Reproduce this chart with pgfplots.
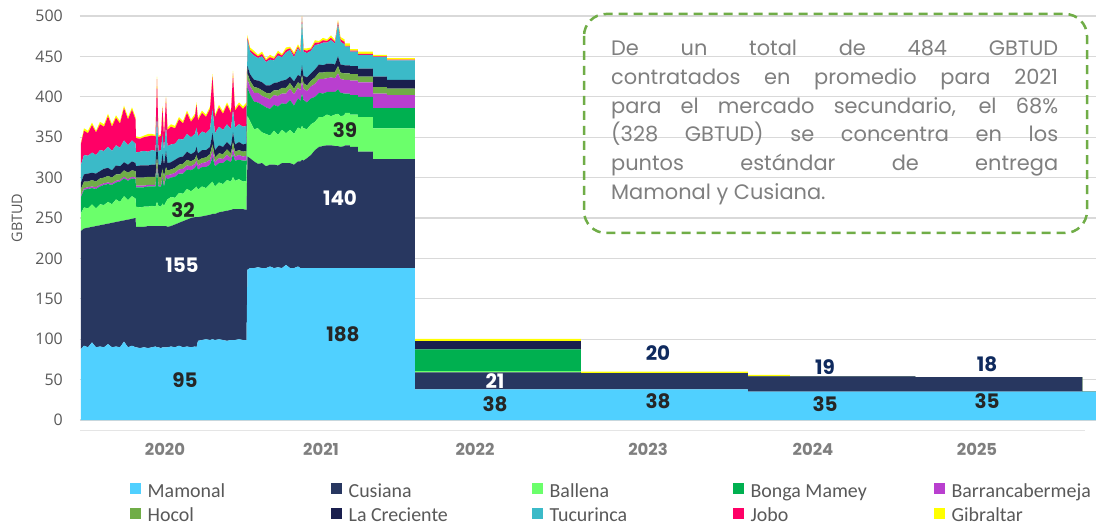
\documentclass[border=0pt]{standalone}
\usepackage{fontspec}
\usepackage{pgfplots}
\usepackage{pgfplotstable}
\pgfplotsset{compat=1.18}
\setmainfont{Poppins}
\newfontfamily\popp{Poppins}
\newfontfamily\opens{Open Sans}
\newfontfamily\carl{Carlito}
\definecolor{cMam}{HTML}{50D0FF}
\definecolor{cCus}{HTML}{283760}
\definecolor{cBal}{HTML}{6BFF6B}
\definecolor{cBon}{HTML}{00B050}
\definecolor{cBar}{HTML}{B93FCF}
\definecolor{cHoc}{HTML}{70AD47}
\definecolor{cLac}{HTML}{1A1F4E}
\definecolor{cTuc}{HTML}{3BBAC8}
\definecolor{cJob}{HTML}{FF0066}
\definecolor{cGib}{HTML}{FFFF00}
\definecolor{tickgray}{HTML}{595959}
\definecolor{xgray}{HTML}{7F7F7F}
\definecolor{boxgreen}{HTML}{70AD47}
\definecolor{lblnavy}{HTML}{0F2A5E}
\definecolor{lbldark}{HTML}{262626}
\pgfplotsset{
  sqlegend/.style={legend image code/.code={\fill[##1] (0bp,-5.5bp) rectangle (11bp,5.5bp);}},
}
\pgfplotstableread{
x mam cus bal bon bar hoc lac tuc job gib
81 88 146 22 20 2 8 8 22 26 2
84 92 145 26 22 2 8 9 24 30 3
88 90 148 24 24 2 7 10 22 28 3
92 96 143 28 20 2 8 9 25 34 3
96 90 150 22 24 2 7 10 23 28 2
100 91 150 26 22 2 8 9 26 32 3
104 90 152 24 25 2 7 11 22 30 3
108 94 149 27 22 2 8 10 26 38 3
112 90 154 23 24 2 7 9 24 30 3
116 91 154 28 21 2 8 11 25 34 3
120 90 156 24 25 2 7 10 23 30 3
124 97 150 30 22 2 8 10 27 40 3
128 90 158 24 24 2 8 10 24 32 3
132 92 157 28 22 2 8 11 26 38 3
135.5 90 160 24 24 2 8 10 24 30 3
136 90 149 25 24 2 10 14 17 18 2
140 89 150 24 25 2 10 15 17 16 2
144 90 149 25 24 2 10 15 18 17 2
148 89 151 24 25 2 10 14 17 19 3
152 90 150 25 24 2 10 15 18 18 2
155.5 91 149 24 25 2 10 15 17 18 2
157 90 150 30 40 5 12 20 30 45 3
158.5 90 150 25 24 2 10 15 17 17 2
161 89 151 24 25 2 10 15 18 18 2
162.5 90 150 28 30 3 10 18 25 32 2
164 90 150 25 24 2 10 15 17 18 2
166 90 150 30 30 3 10 20 30 35 2
167.5 90 149 34 25 5 6 9 21 20 3
171 91 149 36 24 4 6 9 22 22 3
175 90 152 33 26 5 6 10 20 19 3
179 92 152 37 24 5 6 9 23 24 3
183 90 156 34 25 6 6 9 21 20 3
187 91 157 38 24 5 7 10 22 26 3
191 90 160 33 26 5 6 9 21 19 3
195 91 160 36 25 5 6 9 22 22 3
196.5 90 161 38 26 6 7 10 24 28 3
198 98 153 34 25 5 6 9 21 20 3
202 99 153 37 24 5 6 10 23 23 3
206 100 153 34 26 6 6 9 21 20 3
210 99 155 38 24 6 7 9 22 25 3
212.5 100 155 40 30 8 8 14 30 40 3
215 99 156 34 25 5 6 9 21 20 3
219 100 157 37 24 6 6 10 23 24 3
223 99 159 34 26 5 6 9 21 20 3
227 98 161 38 25 6 7 9 22 24 3
231 99 161 35 24 5 6 9 21 20 3
233 99 162 40 28 7 8 12 28 45 3
235 99 162 35 25 5 6 9 21 21 3
239 100 161 37 24 6 6 10 22 24 3
243 99 162 34 26 5 6 9 22 22 3
246.5 99 161 36 25 6 6 9 22 26 3
247.5 186 140 50 35 10 8 9 32 3 3
250 188 136 46 33 10 7 8 28 2 3
254 188 132 40 34 11 7 9 30 3 3
258 189 128 44 32 12 6 9 28 2 2
262 188 130 38 34 11 7 10 32 3 3
266 188 126 40 33 12 6 9 29 2 2
270 190 126 36 33 12 7 10 32 3 3
274 188 128 42 32 12 6 9 28 2 2
278 189 126 38 35 13 7 10 33 3 3
282 188 130 41 33 12 7 9 29 2 2
286 192 126 37 36 13 7 10 34 3 3
290 188 130 41 37 14 7 8 33 2 2
294 188 128 38 35 14 7 9 30 3 3
298 190 130 42 36 13 7 9 33 2 3
300.5 188 132 40 35 13 7 10 30 2 2
302 188 134 42 40 15 8 12 58 2 1
303.5 188 133 40 35 14 7 9 30 2 2
307 188 136 36 33 14 7 10 30 3 3
311 188 140 38 32 15 7 9 28 2 2
315 188 146 35 31 16 8 10 30 3 3
319 188 150 37 30 17 8 10 25 2 2
323 188 151 36 29 18 8 9 28 3 3
327 188 152 38 28 17 8 10 26 2 2
331 188 152 36 30 18 7 10 29 3 3
335 188 151 39 28 17 8 9 26 2 2
338 188 151 40 30 20 9 12 40 3 2
340.5 188 150 38 29 17 8 10 28 3 3
344.5 188 151 38 27 17 8 10 26 3 3
345 188 152 40 24 17 8 10 23 1 3
350 188 152 40 24 17 8 10 23 1 3
350 188 150 40 24 18 8 10 18 1 2
358 188 150 40 24 18 8 10 18 1 2
358 188 144 43 25 18 7 10 17 1 3
373 188 144 43 25 18 7 10 17 1 3
373 188 135 38 25 18 8 13 24 1 2
387 188 135 38 25 18 8 13 24 1 2
387 188 135 38 25 16 8 11 24 1 2
415 188 135 38 25 16 8 11 24 1 2
415 38 21 1.5 27 0 0 10 0 0 3
581 38 21 1.5 27 0 0 10 0 0 3
581 38 20 0 0 0 0 0 0 0 2
748 38 20 0 0 0 0 0 0 0 2
748 35 19 0 0 0 0 0 0 0 2
790 35 19 0 0 0 0 0 0 0 2
790 35 19 0 0 0 0 0 0 0 0
915 35 19 0 0 0 0 0 0 0 0
915 35 18 0 0 0 0 0 0 0 0
1082 35 18 0 0 0 0 0 0 0 0
1082 35 0 0 0 0 0 0 0 0 0
1096 35 0 0 0 0 0 0 0 0 0
}\mydata
\begin{document}
\begin{tikzpicture}
\useasboundingbox (-80bp,-109bp) rectangle (1016bp,420bp);
\fill[white] (-80bp,-109bp) rectangle (1016bp,420bp);
\begin{axis}[
  at={(0,0)}, anchor=south west,
  scale only axis, width=1016bp, height=404bp,
  xmin=80, xmax=1096, ymin=0, ymax=500,
  clip=false,
  stack plots=y,
  axis line style={draw=none},
  major tick length=0pt,
  ytick={0,50,100,150,200,250,300,350,400,450,500},
  yticklabels={0,50,100,150,200,250,300,350,400,450,500},
  xtick={165,321,475,648,813,977},
  xticklabels={2020,2021,2022,2023,2024,2025},
  ymajorgrids,
  grid style={draw=black!15, line width=1.2bp},
  yticklabel style={font=\opens\fontsize{16}{19}\selectfont, text=tickgray, inner sep=0pt, anchor=east, xshift=-17bp},
  xticklabel style={font=\popp\bfseries\fontsize{16.5}{19}\selectfont, text=xgray, inner sep=0pt, anchor=base, yshift=-35bp},
  ylabel={GBTUD},
  ylabel style={font=\opens\fontsize{14.5}{17}\selectfont, text=tickgray},
  every axis y label/.append style={at={(rel axis cs:-0.062,0.5)}, anchor=center},
  legend columns=5,
  sqlegend,
  legend style={at={(0.0492,-0.1399)}, anchor=north west, draw=none, fill=none, inner sep=0pt, row sep=0pt, column sep=0pt, font=\carl\fontsize{20}{27}\selectfont, text=tickgray},
]
\addplot[fill=cMam, draw=none] table[x=x,y=mam]{\mydata} \closedcycle;
\addlegendentry{\makebox[186bp][l]{\hspace{4.5bp}\strut Mamonal}}
\addplot[fill=cCus, draw=none] table[x=x,y=cus]{\mydata} \closedcycle;
\addlegendentry{\makebox[186bp][l]{\hspace{4.5bp}\strut Cusiana}}
\addplot[fill=cBal, draw=none] table[x=x,y=bal]{\mydata} \closedcycle;
\addlegendentry{\makebox[186bp][l]{\hspace{4.5bp}\strut Ballena}}
\addplot[fill=cBon, draw=none] table[x=x,y=bon]{\mydata} \closedcycle;
\addlegendentry{\makebox[186bp][l]{\hspace{4.5bp}\strut Bonga Mamey}}
\addplot[fill=cBar, draw=none] table[x=x,y=bar]{\mydata} \closedcycle;
\addlegendentry{\makebox[186bp][l]{\hspace{4.5bp}\strut Barrancabermeja}}
\addplot[fill=cHoc, draw=none] table[x=x,y=hoc]{\mydata} \closedcycle;
\addlegendentry{\makebox[186bp][l]{\hspace{4.5bp}\strut Hocol}}
\addplot[fill=cLac, draw=none] table[x=x,y=lac]{\mydata} \closedcycle;
\addlegendentry{\makebox[186bp][l]{\hspace{4.5bp}\strut La Creciente}}
\addplot[fill=cTuc, draw=none] table[x=x,y=tuc]{\mydata} \closedcycle;
\addlegendentry{\makebox[186bp][l]{\hspace{4.5bp}\strut Tucurinca}}
\addplot[fill=cJob, draw=none] table[x=x,y=job]{\mydata} \closedcycle;
\addlegendentry{\makebox[186bp][l]{\hspace{4.5bp}\strut Jobo}}
\addplot[fill=cGib, draw=none] table[x=x,y=gib]{\mydata} \closedcycle;
\addlegendentry{\makebox[186bp][l]{\hspace{4.5bp}\strut Gibraltar}}
\end{axis}
\begin{scope}[every node/.style={font=\popp\bfseries\fontsize{20}{24}\selectfont, inner sep=0pt}]
\node[text=lbldark] at (105bp,40bp) {95};
\node[text=white] at (102bp,155bp) {155};
\node[text=lbldark] at (103bp,210bp) {32};
\node[text=lbldark] at (263bp,86bp) {188};
\node[text=white] at (260bp,222bp) {140};
\node[text=lbldark] at (265bp,290bp) {39};
\node[text=white] at (415bp,39bp) {21};
\node[text=lbldark] at (415bp,16bp) {38};
\node[text=lblnavy] at (578bp,67bp) {20};
\node[text=lbldark] at (578bp,19bp) {38};
\node[text=lblnavy] at (745bp,53bp) {19};
\node[text=lbldark] at (745bp,16bp) {35};
\node[text=lblnavy] at (907bp,56bp) {18};
\node[text=lbldark] at (907bp,19bp) {35};
\end{scope}
\draw[black!10, line width=1bp] (0bp,-10bp) -- (1005bp,-10bp);
\draw[boxgreen, line width=2.5bp, dash pattern=on 9bp off 6bp, rounded corners=22bp] (504bp,406bp) rectangle (1007bp,187bp);
\node[anchor=north west, inner sep=0pt, text width=447bp, align=justify, text=xgray, font=\popp\fontsize{21}{28.8}\selectfont] at (531bp,380bp)
{\tolerance=10000\hyphenpenalty=10000 De un total de 484 GBTUD\linebreak contratados en promedio para 2021\linebreak para el mercado secundario, el 68\%\linebreak (328 GBTUD) se concentra en los\linebreak puntos estándar de entrega\linebreak Mamonal y Cusiana.};
\end{tikzpicture}
\end{document}
